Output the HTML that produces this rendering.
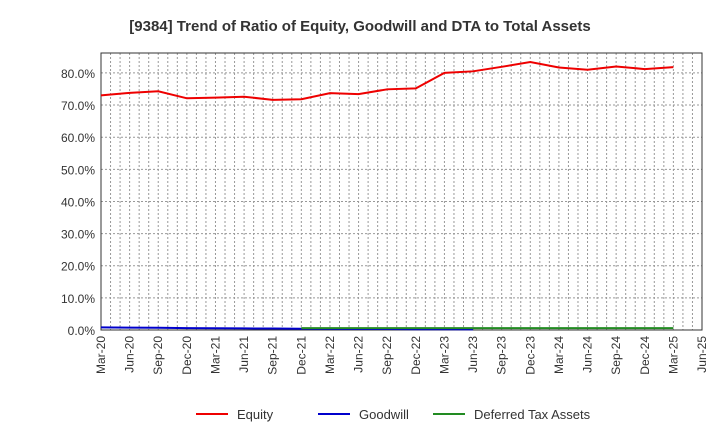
<!DOCTYPE html>
<html><head><meta charset="utf-8"><style>body{margin:0;background:#fff}svg text{font-family:"Liberation Sans",sans-serif}</style></head>
<body>
<svg id="c" width="720" height="440" xmlns="http://www.w3.org/2000/svg">
<text x="360" y="31" text-anchor="middle" font-size="15" font-weight="bold" fill="#333">[9384]  Trend of Ratio of Equity, Goodwill and DTA to Total Assets</text>
<g id="grid"></g><g id="axes"></g><g id="series"></g>
<g>
<line x1="196" y1="414" x2="228" y2="414" stroke="#e00" stroke-width="2"/><text x="237" y="419" font-size="13" fill="#333">Equity</text>
<line x1="318" y1="414" x2="350" y2="414" stroke="#00c" stroke-width="2"/><text x="359" y="419" font-size="13" fill="#333">Goodwill</text>
<line x1="433" y1="414" x2="465" y2="414" stroke="#228b22" stroke-width="2"/><text x="474" y="419" font-size="13" fill="#333">Deferred Tax Assets</text>
</g>
</svg>
<script>
const categories=["Mar-20","Jun-20","Sep-20","Dec-20","Mar-21","Jun-21","Sep-21","Dec-21","Mar-22","Jun-22","Sep-22","Dec-22","Mar-23","Jun-23","Sep-23","Dec-23","Mar-24","Jun-24","Sep-24","Dec-24","Mar-25","Jun-25"];
const equity=[73.0,73.8,74.3,72.1,72.3,72.6,71.6,71.8,73.7,73.4,74.9,75.2,80.0,80.5,81.9,83.4,81.7,81.0,82.0,81.2,81.8,null];
const goodwill=[0.8,0.75,0.7,0.6,0.55,0.5,0.45,0.4,0.35,0.3,0.3,0.25,0.25,0.2,null,null,null,null,null,null,null,null];
const dta=[null,null,null,null,null,null,null,0.6,0.6,0.6,0.6,0.6,0.6,0.6,0.6,0.6,0.6,0.6,0.6,0.6,0.6,null];
const yTicks=[0,10,20,30,40,50,60,70,80];
const X0=101,X1=702,Y0=330,Y1=53,YMAX=86.2;
const x=i=>X0+i*(X1-X0)/(categories.length-1);
const y=v=>Y0-v*(Y0-Y1)/YMAX;
const NS="http://www.w3.org/2000/svg";
function mk(t,a,p){const e=document.createElementNS(NS,t);for(const k in a)e.setAttribute(k,a[k]);p.appendChild(e);return e;}
const grid=document.getElementById('grid'),axes=document.getElementById('axes'),series=document.getElementById('series');
for(let m=1;m<(categories.length-1)*3;m++){const xx=X0+m*(X1-X0)/((categories.length-1)*3);
const l=mk('line',{x1:xx,x2:xx,y1:Y1,y2:Y0,stroke:'#999','stroke-dasharray':'2,2','stroke-width':1},grid);

}
yTicks.forEach(v=>{const l=mk('line',{x1:X0,x2:X1,y1:y(v),y2:y(v),stroke:'#999','stroke-dasharray':'2,2'},grid);


const t=mk('text',{x:X0-6,y:y(v)+5,'text-anchor':'end','font-size':12,fill:'#333'},axes);t.textContent=v.toFixed(1)+'%';

});
const r=mk('rect',{x:X0,y:Y1,width:X1-X0,height:Y0-Y1,fill:'none',stroke:'#333'},axes);


categories.forEach((c,i)=>{const t=mk('text',{transform:`translate(${x(i)+4},${Y0+6}) rotate(-90)`,'text-anchor':'end','font-size':12,fill:'#333'},axes);t.textContent=c;

});
function line(d,col,name){let p='';d.forEach((v,i)=>{if(v==null)return;p+=(p?'L':'M')+x(i)+','+y(v);});
const e=mk('path',{d:p,fill:'none',stroke:col,'stroke-width':2},series);

}
line(goodwill,'#00c','goodwill-line');line(dta,'#228b22','dta-line');line(equity,'#e00','equity-line');
</script>
</body></html>
